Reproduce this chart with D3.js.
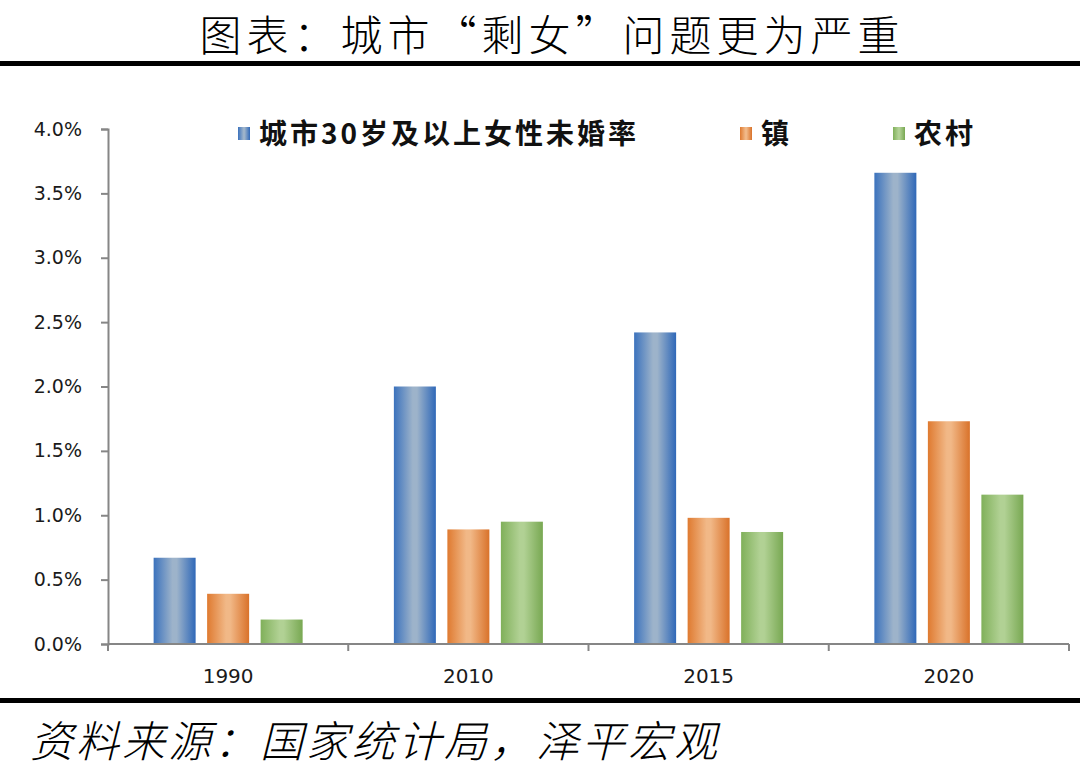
<!DOCTYPE html>
<html><head><meta charset="utf-8">
<script src="https://cdn.jsdelivr.net/npm/d3@7"></script>
<style>
html,body{margin:0;padding:0;background:#fff;}
svg{display:block;}
</style></head>
<body>
<svg id="c" width="1080" height="772"></svg>
<script>
const titleText = "图表：城市“剩女”问题更为严重";
const sourceText = "资料来源：国家统计局，泽平宏观";
const years = ["1990","2010","2015","2020"];
const seriesNames = ["城市30岁及以上女性未婚率","镇","农村"];
const cityValues = [0.0067, 0.0200, 0.0242, 0.0366];
const townValues = [0.0039, 0.0089, 0.0098, 0.0173];
const ruralValues = [0.0019, 0.0095, 0.0087, 0.0116];
const yTicks = [0,0.005,0.01,0.015,0.02,0.025,0.03,0.035,0.04];

const svg = d3.select("#c");
const colors = [
  {edge:"#3b72bd", mid:"#9db3ca", dark:"#2f68b8"},
  {edge:"#df7a30", mid:"#f1b887", dark:"#d9722a"},
  {edge:"#80b05a", mid:"#b1d194", dark:"#78a852"}
];
const defs = svg.append("defs");
colors.forEach((c,i)=>{
  const g = defs.append("linearGradient").attr("id","g"+i).attr("x1","0").attr("x2","1").attr("y1","0").attr("y2","0");
  g.append("stop").attr("offset","0").attr("stop-color",c.edge);
  g.append("stop").attr("offset","0.45").attr("stop-color",c.mid);
  g.append("stop").attr("offset","0.55").attr("stop-color",c.mid);
  g.append("stop").attr("offset","1").attr("stop-color",c.dark);
});

// Title
svg.append("text").attr("x",552).attr("y",51).attr("text-anchor","middle")
  .attr("font-family","'Noto Sans CJK SC'").attr("font-weight",300).attr("font-size",42)
  .attr("letter-spacing",5)
  .attr("fill","#000").text(titleText);
svg.append("rect").attr("x",0).attr("y",61).attr("width",1080).attr("height",5).attr("fill","#000");

// Scales
const x0 = d3.scaleBand().domain(years).range([108,1069]).paddingInner(0.3798).paddingOuter(0.1899);
const x1 = d3.scaleBand().domain([0,1,2]).range([0,x0.bandwidth()]).paddingInner(0.215).paddingOuter(0);
const y = d3.scaleLinear().domain([0,0.04]).range([644,129]);

const data = years.map((yr,i)=>({year:yr, vals:[cityValues[i],townValues[i],ruralValues[i]]}));

// Bars
const groups = svg.append("g").selectAll("g").data(data).join("g")
  .attr("transform",d=>`translate(${x0(d.year)},0)`);
groups.selectAll("rect").data(d=>d.vals.map((v,k)=>({v,k}))).join("rect")
  .attr("x",d=>x1(d.k)).attr("width",x1.bandwidth())
  .attr("y",d=>y(d.v)).attr("height",d=>y(0)-y(d.v))
  .attr("fill",d=>`url(#g${d.k})`);

// Y axis
const yAxis = svg.append("g").attr("transform","translate(108,0)")
  .call(d3.axisLeft(y).tickValues(yTicks).tickFormat(d3.format(".1%")).tickSize(7).tickPadding(19));
yAxis.select(".domain").attr("stroke","#868686").attr("stroke-width",2);
yAxis.selectAll(".tick line").attr("stroke","#868686").attr("stroke-width",2);
yAxis.selectAll("text").attr("font-family","'DejaVu Sans'").attr("font-size",19).attr("fill","#1a1a1a");

// X axis
const xAxis = svg.append("g").attr("transform","translate(0,644)")
  .call(d3.axisBottom(x0).tickSize(0).tickPadding(25));
xAxis.select(".domain").attr("stroke","#868686").attr("stroke-width",2).attr("d",`M108,0H1069`);
xAxis.selectAll("text").attr("font-family","'DejaVu Sans'").attr("font-size",20).attr("fill","#1a1a1a");
const boundaries = d3.range(years.length+1).map(i=>x0.range()[0]+i*x0.step());
xAxis.selectAll("line.sep").data(boundaries).join("line").attr("class","sep")
  .attr("x1",d=>d).attr("x2",d=>d).attr("y1",0).attr("y2",7)
  .attr("stroke","#868686").attr("stroke-width",2);

// Legend
const legendX = [238,740,893];
const leg = svg.append("g");
seriesNames.forEach((n,i)=>{
  leg.append("rect").attr("x",legendX[i]).attr("y",127).attr("width",12).attr("height",13)
    .attr("fill",`url(#g${i})`);
  leg.append("text").attr("x",legendX[i]+21).attr("y",144)
    .attr("font-family","'Noto Sans CJK SC'").attr("font-weight",700).attr("font-size",28)
    .attr("letter-spacing",3)
    .attr("fill","#111").text(n);
});

// Bottom rule and source
svg.append("rect").attr("x",0).attr("y",698).attr("width",1080).attr("height",5).attr("fill","#000");
svg.append("text").attr("x",30).attr("y",757)
  .attr("font-family","'Noto Sans CJK SC'").attr("font-weight",300).attr("font-style","italic").attr("font-size",43)
  .attr("letter-spacing",3)
  .attr("fill","#000").text(sourceText);
</script>
</body></html>
